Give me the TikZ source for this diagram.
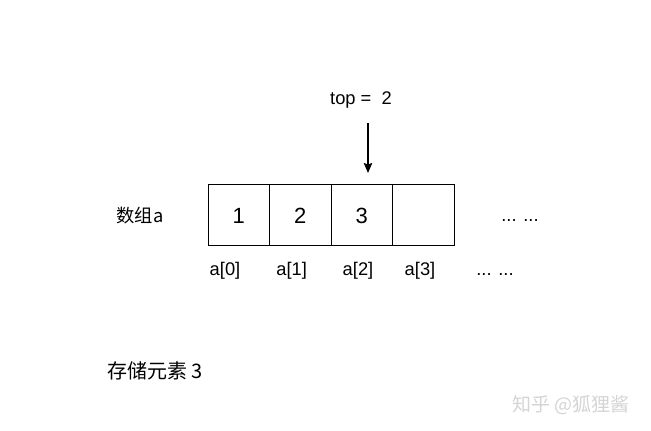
\documentclass[tikz,border=0pt]{standalone}
\usepackage{fontspec}
\setmainfont{Liberation Sans}
\newfontfamily\cjkfont{Noto Sans CJK SC}
\usetikzlibrary{arrows.meta}
\definecolor{figink}{HTML}{000000}
\definecolor{figmark}{HTML}{D4D4D4}

\begin{document}
\begin{tikzpicture}[
  x=1pt,y=1pt,
  draw=figink,text=figink,
  line width=1pt,
  >={Stealth[length=10pt,width=8.5pt,inset=1.5pt]},
  every node/.style={font=\fontsize{18.3}{20}\selectfont},
  cell/.style={draw,minimum width=61.5pt,minimum height=61pt,
    inner sep=0pt,font=\fontsize{22}{24}\selectfont},
  idx/.style={anchor=base},
  cjk/.style={font=\fontsize{18.3}{20}\selectfont\cjkfont}
]
\useasboundingbox (0,0) rectangle (651,431);

% The array cells, a[0] .. a[3].
\node[cell] (c0) at (238.75,215.5) {1};
\node[cell] (c1) at (300.25,215.5) {2};
\node[cell] (c2) at (361.75,215.5) {3};
\node[cell] (c3) at (423.25,215.5) {};
\node[idx] (more) at (520,209) {... ...};
\node[cjk] (name) at (140,215) {数组a};

% Indices under the cells.
\node[idx] (i0) at (225,155) {a[0]};
\node[idx] (i1) at (291.7,155) {a[1]};
\node[idx] (i2) at (358,155) {a[2]};
\node[idx] (i3) at (420,155) {a[3]};
\node[idx] (imore) at (495,155) {... ...};

% Stack pointer.
\node (top) at (361,331) {top =\ \ 2};
\coordinate (ptrtail) at (368,308);
\coordinate (ptrhead) at (368,258);
\draw[->,line width=1.3pt] (ptrtail) -- (ptrhead);

% Caption and watermark.
\node[cjk,font=\fontsize{20}{22}\selectfont\cjkfont] (caption) at (155,60) {存储元素 3};
\node[cjk,text=figmark,font=\fontsize{19}{21}\selectfont\cjkfont] (mark) at (571,26) {知乎 @狐狸酱};

\end{tikzpicture}
\end{document}
